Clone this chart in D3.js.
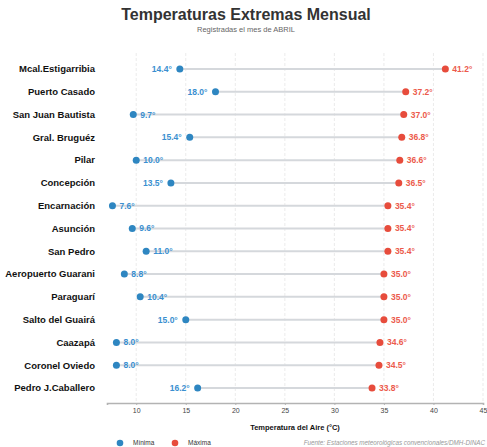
<!DOCTYPE html>
<html><head><meta charset="utf-8">
<script src="https://cdn.jsdelivr.net/npm/d3@7"></script>
<style>body{margin:0;background:#fff;} svg{display:block;font-family:"Liberation Sans",Arial,sans-serif;}</style>
</head><body>
<script>
const stations = ["Mcal.Estigarribia","Puerto Casado","San Juan Bautista","Gral. Bruguéz","Pilar","Concepción","Encarnación","Asunción","San Pedro","Aeropuerto Guarani","Paraguarí","Salto del Guairá","Caazapá","Coronel Oviedo","Pedro J.Caballero"];
const minVals = [14.4,18.0,9.7,15.4,10.0,13.5,7.6,9.6,11.0,8.8,10.4,15.0,8.0,8.0,16.2];
const maxVals = [41.2,37.2,37.0,36.8,36.6,36.5,35.4,35.4,35.4,35.0,35.0,35.0,34.6,34.5,33.8];
const xTicks = [10,15,20,25,30,35,40,45];
const legendLabels = ["Mínima","Máxima"];

const W=487,H=447;
const colMin="#2E86C1", colMax="#E74C3C";
const svg=d3.select("body").append("svg").attr("width",W).attr("height",H);

const x=d3.scaleLinear().domain([7.05,45]).range([107,483]);
const y=d3.scalePoint().domain(stations).range([69,388]);

svg.append("text").attr("x",246).attr("y",20).attr("text-anchor","middle")
  .attr("font-size",16).attr("font-weight","bold").attr("fill","#333").text("Temperaturas Extremas Mensual");
svg.append("text").attr("x",246).attr("y",32).attr("text-anchor","middle")
  .attr("font-size",7.5).attr("fill","#666").text("Registradas el mes de ABRIL");

// grid
svg.append("g").selectAll("line").data(xTicks).join("line")
  .attr("x1",d=>x(d)).attr("x2",d=>x(d)).attr("y1",53).attr("y2",401)
  .attr("stroke","#e6e6e6").attr("stroke-width",0.8).attr("stroke-dasharray","3,2");

// axis
const ax=svg.append("g").attr("transform","translate(0,403)")
  .call(d3.axisBottom(x).tickValues(xTicks).tickSize(2).tickPadding(3));
ax.select(".domain").attr("stroke","#b3b3b3").attr("stroke-width",1.6);
ax.selectAll(".tick line").attr("stroke","#b3b3b3");
ax.selectAll(".tick text").attr("font-size",7).attr("fill","#444").attr("font-family","Liberation Sans, Arial, sans-serif");

// y labels
svg.append("g").selectAll("text").data(stations).join("text")
  .attr("x",95).attr("y",d=>y(d)).attr("dy","0.35em").attr("text-anchor","end")
  .attr("font-size",9.5).attr("font-weight","bold").attr("fill","#111").text(d=>d);

const rows=stations.map((s,i)=>({s,mn:minVals[i],mx:maxVals[i]}));
svg.append("g").selectAll("line").data(rows).join("line")
  .attr("x1",d=>x(d.mn)).attr("x2",d=>x(d.mx)).attr("y1",d=>y(d.s)).attr("y2",d=>y(d.s))
  .attr("stroke","#d5d8dc").attr("stroke-width",2);

svg.append("g").selectAll("circle").data(rows).join("circle")
  .attr("cx",d=>x(d.mn)).attr("cy",d=>y(d.s)).attr("r",3.5).attr("fill",colMin);
svg.append("g").selectAll("circle").data(rows).join("circle")
  .attr("cx",d=>x(d.mx)).attr("cy",d=>y(d.s)).attr("r",3.5).attr("fill",colMax);

svg.append("g").selectAll("text").data(rows).join("text")
  .attr("x",d=>d.mn>12?x(d.mn)-8:x(d.mn)+7)
  .attr("text-anchor",d=>d.mn>12?"end":"start")
  .attr("y",d=>y(d.s)).attr("dy","0.35em")
  .attr("font-size",8.5).attr("font-weight","bold").attr("fill","#3a8fd0")
  .text(d=>d.mn.toFixed(1)+"°");
svg.append("g").selectAll("text").data(rows).join("text")
  .attr("x",d=>x(d.mx)+7).attr("y",d=>y(d.s)).attr("dy","0.35em")
  .attr("font-size",8.5).attr("font-weight","bold").attr("fill","#ec5a4c")
  .text(d=>d.mx.toFixed(1)+"°");

svg.append("text").attr("x",295).attr("y",430).attr("text-anchor","middle")
  .attr("font-size",7.5).attr("font-weight","bold").attr("fill","#111").text("Temperatura del Aire (°C)");

// legend
const lg=svg.append("g");
[colMin,colMax].forEach((c,i)=>{
  lg.append("circle").attr("cx",120+i*55).attr("cy",443).attr("r",3.3).attr("fill",c);
  lg.append("text").attr("x",133+i*55).attr("y",443).attr("dy","0.35em").attr("font-size",6.5).attr("fill","#333").text(legendLabels[i]);
});

svg.append("text").attr("x",485).attr("y",443).attr("dy","0.35em").attr("font-size",6.3).attr("text-anchor","end")
  .attr("font-style","italic").attr("fill","#999").text("Fuente: Estaciones meteorológicas convencionales/DMH-DINAC");
</script>
</body></html>
